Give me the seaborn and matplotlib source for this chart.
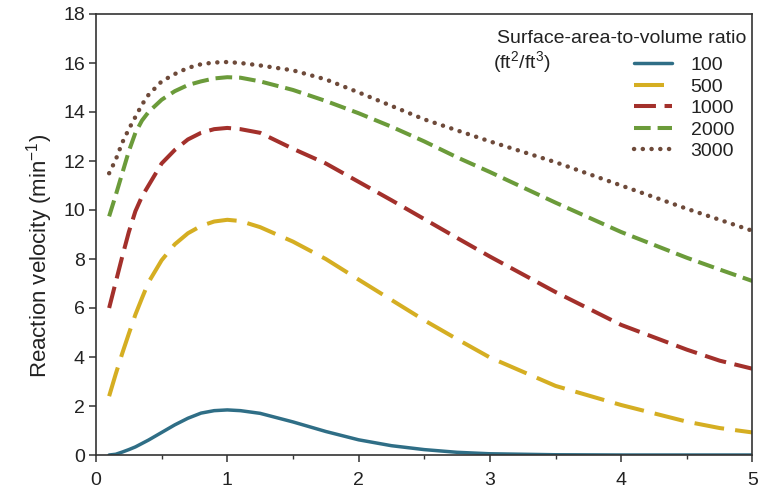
import matplotlib
matplotlib.use("Agg")
import matplotlib.pyplot as plt
import seaborn as sns
import pandas as pd
from matplotlib.ticker import MultipleLocator

# ---- data ----
x_vals = [0.1, 0.15, 0.2, 0.25, 0.3, 0.35, 0.4, 0.5, 0.6, 0.7, 0.8, 0.9, 1.0, 1.1,
          1.25, 1.5, 1.75, 2.0, 2.25, 2.5, 2.75, 3.0, 3.5, 4.0, 4.5, 4.75, 5.0]
v100 = [0.0, 0.03, 0.12, 0.22, 0.33, 0.47, 0.61, 0.92, 1.23, 1.5, 1.71, 1.81, 1.84, 1.81,
        1.7, 1.35, 0.96, 0.62, 0.38, 0.22, 0.11, 0.05, 0.01, 0.0, 0.0, 0.0, 0.0]
v500 = [2.4, 3.3, 4.15, 4.95, 5.73, 6.4, 7.05, 7.95, 8.6, 9.05, 9.35, 9.53, 9.6, 9.55,
        9.3, 8.71, 8.0, 7.16, 6.33, 5.5, 4.73, 3.98, 2.82, 2.04, 1.36, 1.1, 0.92]
v1000 = [6.0, 7.05, 8.1, 9.1, 9.95, 10.55, 11.0, 11.9, 12.45, 12.88, 13.15, 13.3, 13.35, 13.3,
         13.15, 12.5, 11.9, 11.15, 10.4, 9.63, 8.86, 8.1, 6.65, 5.31, 4.3, 3.85, 3.52]
v2000 = [9.74, 10.6, 11.5, 12.4, 13.15, 13.65, 14.0, 14.5, 14.85, 15.1, 15.25, 15.37, 15.42, 15.4,
         15.25, 14.9, 14.45, 13.95, 13.4, 12.8, 12.15, 11.55, 10.3, 9.1, 8.05, 7.57, 7.1]
v3000 = [11.5, 12.05, 12.75, 13.3, 13.8, 14.3, 14.7, 15.25, 15.55, 15.8, 15.95, 16.02, 16.04, 16.0,
         15.9, 15.7, 15.33, 14.8, 14.25, 13.7, 13.25, 12.8, 11.95, 11.0, 10.05, 9.6, 9.15]
ratios = ["100", "500", "1000", "2000", "3000"]
series = [v100, v500, v1000, v2000, v3000]
x_ticks = [0, 1, 2, 3, 4, 5]
y_ticks = [0, 2, 4, 6, 8, 10, 12, 14, 16, 18]

colors = {"100": "#2f6e86", "500": "#d5ae22", "1000": "#a3302b",
          "2000": "#6b9b3a", "3000": "#6e4a3a"}
styles = {"100": "-", "500": (0, (21.6, 8.0)), "1000": (0, (15.8, 6.2)),
          "2000": (0, (12.0, 5.0)), "3000": (0, (0.1, 6.2))}
widths = {"100": 2.5, "500": 2.9, "1000": 2.9, "2000": 2.9, "3000": 3.2}

sns.set_theme(style="ticks")
plt.rcParams["font.family"] = ["Liberation Sans", "DejaVu Sans"]
plt.rcParams["mathtext.default"] = "regular"
plt.rcParams["lines.scale_dashes"] = False

fig = plt.figure(figsize=(7.59, 4.98), dpi=100)
ax = fig.add_axes([96 / 759, 43 / 498, (752.5 - 96) / 759, (455 - 14) / 498])

for r, vals in zip(ratios, series):
    df = pd.DataFrame({"x": x_vals, "y": vals})
    kw = {}
    if r == "3000":
        kw["dash_capstyle"] = "round"
    sns.lineplot(data=df, x="x", y="y", ax=ax, color=colors[r],
                 linewidth=widths[r], linestyle=styles[r], label=r, **kw)

ax.set_xlim(0, 5)
ax.set_ylim(0, 18)
ax.set_xticks(x_ticks)
ax.set_yticks(y_ticks)
ax.xaxis.set_minor_locator(MultipleLocator(0.5))
ax.set_xlabel("")
ax.set_ylabel("Reaction velocity (min$^{-1}$)", fontsize=16, color="#222222")
ax.yaxis.set_label_coords(-0.062, 0.452)
ax.tick_params(axis="both", which="major", direction="out", length=5, width=1.1,
               color="#333333", labelsize=14, labelcolor="#222222", pad=3)
ax.tick_params(axis="x", which="major", pad=7)
ax.tick_params(axis="x", which="minor", direction="out", length=3, width=1.0, color="#333333")
for s in ax.spines.values():
    s.set_color("#333333")
    s.set_linewidth(1.2)
    s.set_visible(True)

leg = ax.legend(title="Surface-area-to-volume ratio", loc="upper right",
                bbox_to_anchor=(1.0, 0.976), frameon=False, fontsize=14,
                title_fontsize=14, handlelength=1.95, handletextpad=0.95,
                labelspacing=0.2, borderpad=0.0, borderaxespad=0.3,
                alignment="right")
# spacing tweaks: entries end a little left of the title, with a larger gap below it
leg._legend_handle_box.pad = 9
leg._legend_box.sep = -2.5
for t in leg.get_texts():
    t.set_color("#222222")
leg.get_title().set_color("#222222")

fig.text(493 / 759, 1 - 62 / 498, "(ft$^2$/ft$^3$)", fontsize=14, color="#222222",
         ha="left", va="center")

fig.savefig("out.png", dpi=100)
